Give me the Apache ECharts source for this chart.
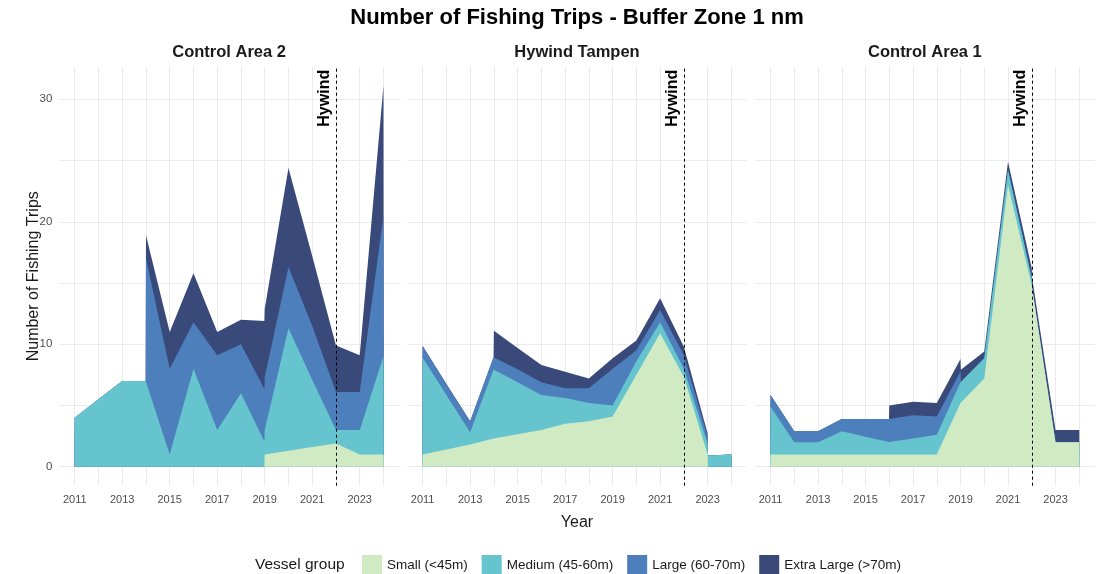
<!DOCTYPE html>
<html>
<head>
<meta charset="utf-8">
<title>Number of Fishing Trips - Buffer Zone 1 nm</title>
<script src="https://cdn.jsdelivr.net/npm/echarts@6/dist/echarts.min.js"></script>
<style>
  html, body { margin: 0; padding: 0; background: #fff; }
  #chart { width: 1102px; height: 574px; }
</style>
</head>
<body>
<div id="chart"></div>
<script>
// x axis: one value per year
const years = [2011, 2012, 2013, 2014, 2015, 2016, 2017, 2018, 2019, 2020, 2021, 2022, 2023, 2024];
const yearLabels = [2011, 2013, 2015, 2017, 2019, 2021, 2023];
const countTicks = [0, 5, 10, 15, 20, 25, 30];
const countLabels = [0, 10, 20, 30];
const hywindYear = 2022;

const panelNames = ['Control Area 2', 'Hywind Tampen', 'Control Area 1'];
const groupNames = ['Small (<45m)', 'Medium (45-60m)', 'Large (60-70m)', 'Extra Large (>70m)'];
const groupColors = ['#d0ebc3', '#65c4ce', '#4c7fbb', '#38497a'];

// trips per vessel group and year (null = no trips in that year)
// Control Area 2
const ca2Small  = [null, null, null, null, null, null, null, null, 1, 1.3, 1.6, 1.9, 1, 1];
const ca2Medium = [4, 5.5, 7, 7, 1, 8, 3, 6, 2, 10, 5.5, 1.1, 2, 8];
const ca2Large  = [null, null, null, 10, 7, 3.8, 6.1, 4, 4.3, 5, 4.4, 3.1, 3.1, 11.5];
const ca2XL     = [null, null, null, 1.9, 3, 4, 1.9, 2, 5.6, 8.1, 5.7, 3.8, 3, 10.6];

// Hywind Tampen
const htSmall  = [1, 1.4, 1.8, 2.3, 2.65, 3, 3.5, 3.7, 4.1, 7.5, 10.9, 7.35, 1, null];
const htMedium = [7.9, 4.45, 1, 5.7, 4.25, 2.85, 2.1, 1.5, 0.9, 1.1, 0.9, 0.65, 0.9, 1];
const htLarge  = [0.95, 0.9, 0.9, 1, 1.05, 1.05, 0.8, 1.2, 3, 0.9, 1, 1.1, 0.55, null];
const htXL     = [null, null, null, 2.1, 1.75, 1.4, 1.35, 0.8, 0.85, 0.8, 0.95, 0.7, 0.25, null];

// Control Area 1
const ca1Small  = [1, 1, 1, 1, 1, 1, 1, 1, 5.2, 7.2, 23, 14.8, 2, 2];
const ca1Medium = [3.9, 1, 1, 1.9, 1.45, 1, 1.3, 1.6, 1.7, 1.65, 1.2, 0.6, null, null];
const ca1Large  = [0.95, 0.9, 0.9, 1, 1.45, 1.9, 1.9, 1.5, 0.9, null, null, null, null, null];
const ca1XL     = [null, null, null, null, null, 1.1, 1.1, 1.1, 1, 0.55, 0.7, 0.8, 1, 1];

const panelGroups = [
  [ca2Small, ca2Medium, ca2Large, ca2XL],
  [htSmall, htMedium, htLarge, htXL],
  [ca1Small, ca1Medium, ca1Large, ca1XL]
];

// layout
const gridLeft = [59.3, 407.2, 755.1];
const gridWidth = 339.6;
const gridTop = 66.8;
const gridHeight = 418.9;
const font = '"Liberation Sans", Arial, sans-serif';

// ggplot-like stacking: each group is zero just outside its own year range
const pad = (years[years.length - 1] - years[0]) * 0.001;

function groupRange(values) {
  let first = -1, last = -1;
  values.forEach((v, i) => {
    if (v != null) {
      if (first < 0) first = i;
      last = i;
    }
  });
  return { first, last };
}

function valueAt(values, x) {
  const r = groupRange(values);
  if (x < years[r.first] || x > years[r.last]) return 0;
  for (let i = r.first; i < r.last; i++) {
    if (x >= years[i] && x <= years[i + 1]) {
      const t = (x - years[i]) / (years[i + 1] - years[i]);
      return values[i] + (values[i + 1] - values[i]) * t;
    }
  }
  return values[r.last];
}

function stackPanel(groups) {
  const xs = new Set(years);
  groups.forEach(v => {
    const r = groupRange(v);
    xs.add(years[r.first] - pad);
    xs.add(years[r.last] + pad);
  });
  const sorted = [...xs].sort((a, b) => a - b);
  let running = sorted.map(() => 0);
  return groups.map(v => {
    running = running.map((s, i) => s + valueAt(v, sorted[i]));
    return sorted.map((x, i) => [x, running[i]]);
  });
}

const stacked = panelGroups.map(stackPanel);

// axis ranges with 5% expansion
const xSpan = years[years.length - 1] - years[0];
const xMin = years[0] - xSpan * 0.05;
const xMax = years[years.length - 1] + xSpan * 0.05;
let maxTotal = 0;
stacked.forEach(p => p[p.length - 1].forEach(pt => { maxTotal = Math.max(maxTotal, pt[1]); }));
const yMin = -maxTotal * 0.05;
const yMax = maxTotal * 1.05;

const gridLine = { show: true, lineStyle: { color: '#ebebeb', width: 1 } };

const grids = gridLeft.map(left => ({ left: left, top: gridTop, width: gridWidth, height: gridHeight }));

const xAxes = gridLeft.map((_, i) => ({
  type: 'value',
  gridIndex: i,
  min: xMin,
  max: xMax,
  axisLine: { show: false },
  axisTick: { show: false, customValues: years },
  splitLine: gridLine,
  axisLabel: {
    customValues: yearLabels,
    formatter: v => String(v),
    color: '#4d4d4d',
    fontSize: 11,
    fontFamily: font,
    margin: 9
  },
  name: i === 1 ? 'Year' : '',
  nameLocation: 'middle',
  nameGap: 29,
  nameTextStyle: { color: '#1a1a1a', fontSize: 16, fontFamily: font }
}));

const yAxes = gridLeft.map((_, i) => ({
  type: 'value',
  gridIndex: i,
  min: yMin,
  max: yMax,
  axisLine: { show: false },
  axisTick: { show: false, customValues: countTicks },
  splitLine: gridLine,
  axisLabel: {
    show: i === 0,
    customValues: countLabels,
    formatter: v => String(v),
    color: '#4d4d4d',
    fontSize: 11.5,
    fontFamily: font,
    margin: 7
  },
  name: i === 0 ? 'Number of Fishing Trips' : '',
  nameLocation: 'middle',
  nameGap: 18,
  nameMoveOverlap: false,
  nameRotate: 90,
  nameTextStyle: { color: '#1a1a1a', fontSize: 16, fontFamily: font }
}));

const series = [];
stacked.forEach((layers, p) => {
  // back to front: largest cumulative first
  for (let k = layers.length - 1; k >= 0; k--) {
    const s = {
      name: groupNames[k],
      type: 'line',
      xAxisIndex: p,
      yAxisIndex: p,
      data: layers[k],
      symbol: 'none',
      silent: true,
      color: groupColors[k],
      itemStyle: { color: groupColors[k] },
      lineStyle: { width: 0, opacity: 0 },
      areaStyle: { color: groupColors[k], opacity: 1, origin: 'auto' }
    };
    if (k === 0) {
      s.markLine = {
        silent: true,
        symbol: ['none', 'none'],
        lineStyle: { type: [3, 3], color: '#000', width: 1 },
        label: {
          show: true,
          formatter: 'Hywind',
          position: 'insideEndTop',
          distance: 3,
          color: '#000',
          fontWeight: 'bold',
          fontSize: 16,
          fontFamily: font
        },
        data: [{ xAxis: hywindYear }]
      };
    }
    series.push(s);
  }
});

const graphics = [
  {
    type: 'text',
    x: gridLeft[1] + gridWidth / 2,
    y: 18,
    style: {
      text: 'Number of Fishing Trips - Buffer Zone 1 nm',
      fill: '#000',
      font: 'bold 22px ' + font,
      textAlign: 'center',
      textVerticalAlign: 'middle'
    }
  },
  {
    type: 'text',
    x: 255,
    y: 565,
    style: {
      text: 'Vessel group',
      fill: '#1a1a1a',
      font: '15.5px ' + font,
      textAlign: 'left',
      textVerticalAlign: 'middle'
    }
  }
].concat(panelNames.map((name, i) => ({
  type: 'text',
  x: gridLeft[i] + gridWidth / 2,
  y: 52,
  style: {
    text: name,
    fill: '#1a1a1a',
    font: 'bold 16.5px ' + font,
    textAlign: 'center',
    textVerticalAlign: 'middle'
  }
})));

const chart = echarts.init(document.getElementById('chart'), null, { renderer: 'canvas' });
chart.setOption({
  animation: false,
  backgroundColor: '#fff',
  grid: grids,
  xAxis: xAxes,
  yAxis: yAxes,
  legend: {
    left: 357,
    top: 550,
    itemWidth: 20,
    itemHeight: 20,
    itemGap: 14,
    icon: 'rect',
    data: groupNames.map((n, k) => ({ name: n, itemStyle: { color: groupColors[k] } })),
    textStyle: { color: '#1a1a1a', fontSize: 13.5, fontFamily: font }
  },
  graphic: graphics,
  series: series
});
</script>
</body>
</html>
